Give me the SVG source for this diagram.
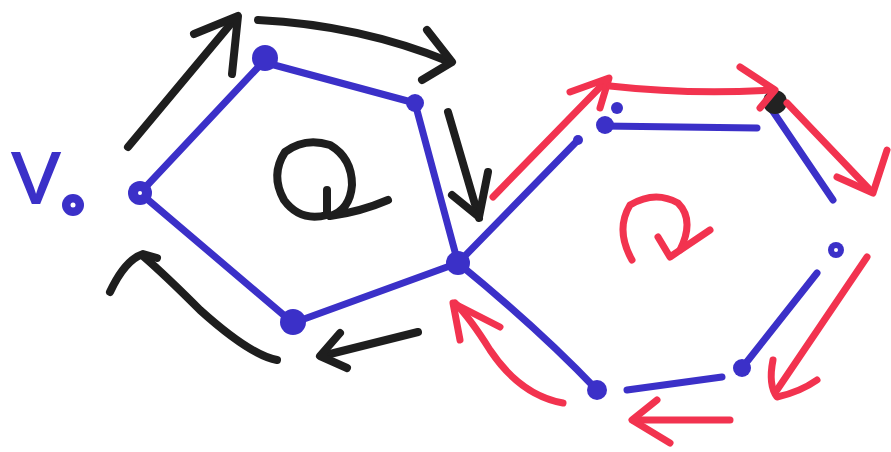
<svg xmlns="http://www.w3.org/2000/svg" width="891" height="452" viewBox="0 0 891 452">
<style>
.bl{stroke:#3b30c8;stroke-width:7;fill:none;stroke-linecap:round;stroke-linejoin:round}
.dot{fill:#3b30c8}
.k{stroke:#1e1e1e;stroke-width:8;fill:none;stroke-linecap:round;stroke-linejoin:round}
.r{stroke:#f2334f;stroke-width:7;fill:none;stroke-linecap:round;stroke-linejoin:round}
.lbl{font-family:"Liberation Sans",Arial,sans-serif;fill:#3b30c8}
</style>
<rect width="891" height="452" fill="#ffffff"/>
<g id="edges">
<path class="bl" d="M140 193 L263 62"/>
<path class="bl" d="M263 62 L415 103"/>
<path class="bl" d="M415 103 L458 263"/>
<path class="bl" d="M458 263 L293 323"/>
<path class="bl" d="M293 323 L140 193"/>
<path class="bl" d="M458 263 L578 140"/>
<path class="bl" d="M603 126 L757 128"/>
<path class="bl" d="M772 110 L833 200"/>
<path class="bl" d="M817 273 L742 368"/>
<path class="bl" d="M722 377 L627 390"/>
<path class="bl" d="M597 390 Q540 330 458 263"/>
</g>
<g id="v0"><circle class="dot" cx="140" cy="193" r="12"/><circle cx="140" cy="193" r="2" fill="#fff"/></g>
<g id="p1"><circle class="dot" cx="265" cy="58" r="13"/></g>
<g id="p2"><circle class="dot" cx="415" cy="103" r="9"/></g>
<g id="c"><circle class="dot" cx="458" cy="263" r="12"/></g>
<g id="p4"><circle class="dot" cx="293" cy="322" r="13"/></g>
<g id="h1"><circle class="dot" cx="605" cy="125" r="9"/><circle class="dot" cx="617" cy="108" r="6"/></g>
<g id="h2"><circle cx="775" cy="102" r="12" fill="#222"/></g>
<g id="h3"><circle class="dot" cx="836" cy="250" r="8"/><circle cx="836" cy="250" r="2" fill="#fff"/></g>
<g id="h4"><circle class="dot" cx="742" cy="368" r="9"/></g>
<g id="h5"><circle class="dot" cx="597" cy="390" r="10"/></g>
<g id="h6"><circle class="dot" cx="578" cy="140" r="5"/></g>
<g id="label"><text class="lbl" x="12" y="203" font-size="72" stroke="#3b30c8" stroke-width="2">V</text><circle cx="73" cy="205" r="11" class="dot"/><circle cx="73" cy="205" r="2.5" fill="#fff"/></g>
<g id="black-arrows">
<path class="k" d="M128 147 L234 20"/>
<path class="k" d="M194 34 L238 16 L232 74"/>
<path class="k" d="M258 20 Q360 25 450 62"/>
<path class="k" d="M427 30 L452 62 L422 80"/>
<path class="k" d="M448 112 Q462 160 479 218"/>
<path class="k" d="M452 195 L479 217 L488 172"/>
<path class="k" d="M418 332 L322 356"/>
<path class="k" d="M340 333 L320 356 L347 368"/>
<path class="k" d="M277 360 Q250 355 200 310 Q165 275 143 256"/>
<path class="k" d="M110 292 Q125 260 143 254 L157 258"/>
<path class="k" d="M327 190 L327 215 Q300 222 284 200 Q270 175 285 152 Q305 137 330 145 Q352 158 352 185 Q350 210 330 216 Q360 212 388 200"/>
</g>
<g id="red-arrows">
<path class="r" d="M493 197 L607 80"/>
<path class="r" d="M570 92 L609 78 L600 108"/>
<path class="r" d="M610 86 Q690 95 773 90"/>
<path class="r" d="M740 67 L775 90 L760 108"/>
<path class="r" d="M787 103 L870 190"/>
<path class="r" d="M837 177 L873 193 L887 150"/>
<path class="r" d="M867 257 L777 390"/>
<path class="r" d="M773 360 Q768 385 777 397 Q800 392 817 380"/>
<path class="r" d="M730 420 L633 420"/>
<path class="r" d="M657 400 L632 420 L670 443"/>
<path class="r" d="M563 403 Q520 395 490 350 Q470 318 455 303"/>
<path class="r" d="M460 340 L453 303 L500 327"/>
<path class="r" d="M632 260 Q615 230 630 205 Q655 190 678 203 Q695 220 680 250"/>
<path class="r" d="M658 237 L670 257 L710 230"/>
</g>
</svg>
